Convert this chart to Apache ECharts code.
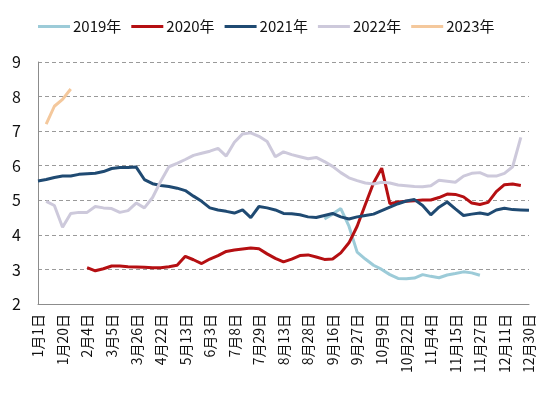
<!DOCTYPE html>
<html>
<head>
<meta charset="utf-8">
<script src="https://cdn.jsdelivr.net/npm/echarts@6/dist/echarts.min.js"></script>
<style>
  html, body { margin: 0; padding: 0; background: #fff; }
  #main { width: 550px; height: 397px; }
</style>
</head>
<body>
<div id="main"></div>
<script>
// 日期（每隔3个显示一个标签）
var dates = [
  '1月1日', '1月7日', '1月14日', '1月20日', '1月25日', '1月30日', '2月4日', '2月14日', '2月24日',
  '3月5日', '3月12日', '3月19日', '3月26日', '4月4日', '4月13日', '4月22日', '4月29日', '5月6日',
  '5月13日', '5月20日', '5月27日', '6月3日', '6月15日', '6月26日', '7月8日', '7月15日', '7月22日',
  '7月29日', '8月3日', '8月8日', '8月13日', '8月18日', '8月23日', '8月28日', '9月3日', '9月9日',
  '9月16日', '9月20日', '9月24日', '9月27日', '10月1日', '10月5日', '10月9日', '10月13日', '10月18日',
  '10月22日', '10月26日', '10月31日', '11月4日', '11月8日', '11月11日', '11月15日', '11月19日', '11月23日',
  '11月27日', '12月2日', '12月6日', '12月11日', '12月17日', '12月23日', '12月30日'
];

var seriesNames = ['2019年', '2020年', '2021年', '2022年', '2023年'];

var y2019 = [
  null, null, null, null, null, null, null, null, null, null,
  null, null, null, null, null, null, null, null, null, null,
  null, null, null, null, null, null, null, null, null, null,
  null, null, null, null, null, 4.46, 4.60, 4.76, 4.25, 3.50,
  3.30, 3.12, 3.00, 2.85, 2.74, 2.73, 2.75, 2.85, 2.80, 2.76,
  2.84, 2.88, 2.93, 2.90, 2.83, null, null, null, null, null,
  null
];

var y2020 = [
  null, null, null, null, null, null, 3.05, 2.96, 3.02, 3.10,
  3.10, 3.08, 3.07, 3.06, 3.05, 3.05, 3.08, 3.12, 3.38, 3.28,
  3.17, 3.30, 3.40, 3.52, 3.56, 3.59, 3.62, 3.60, 3.45, 3.32,
  3.22, 3.30, 3.40, 3.42, 3.36, 3.29, 3.30, 3.48, 3.77, 4.25,
  4.88, 5.50, 5.93, 4.90, 4.95, 4.97, 4.99, 5.01, 5.01, 5.08,
  5.18, 5.17, 5.10, 4.92, 4.88, 4.94, 5.25, 5.45, 5.47, 5.43,
  null
];

var y2021 = [
  5.56, 5.60, 5.66, 5.70, 5.70, 5.75, 5.77, 5.78, 5.83, 5.92,
  5.95, 5.95, 5.96, 5.60, 5.48, 5.43, 5.40, 5.35, 5.28, 5.12,
  4.97, 4.78, 4.72, 4.68, 4.63, 4.72, 4.50, 4.82, 4.78, 4.72,
  4.62, 4.61, 4.58, 4.52, 4.50, 4.56, 4.62, 4.52, 4.46, 4.52,
  4.56, 4.60, 4.70, 4.80, 4.90, 4.98, 5.02, 4.85, 4.58, 4.80,
  4.95, 4.75, 4.56, 4.60, 4.63, 4.59, 4.72, 4.77, 4.73, 4.72,
  4.71
];

var y2022 = [
  null, 4.97, 4.85, 4.22, 4.62, 4.65, 4.65, 4.82, 4.78, 4.76,
  4.65, 4.70, 4.92, 4.78, 5.08, 5.55, 5.97, 6.07, 6.18, 6.30,
  6.36, 6.42, 6.50, 6.28, 6.68, 6.92, 6.95, 6.85, 6.70, 6.26,
  6.40, 6.32, 6.26, 6.20, 6.24, 6.12, 5.98, 5.80, 5.65, 5.57,
  5.50, 5.47, 5.52, 5.50, 5.44, 5.42, 5.40, 5.39, 5.42, 5.58,
  5.55, 5.52, 5.70, 5.78, 5.80, 5.70, 5.70, 5.78, 5.97, 6.82,
  null
];

var y2023 = [
  null, 7.20, 7.72, 7.92, 8.22
];

var colors = ['#9ccbd8', '#b50f12', '#1f4a72', '#cdc9db', '#f4c89c'];

var chart = echarts.init(document.getElementById('main'));

function makeLine(name, data) {
  return {
    name: name,
    type: 'line',
    data: data,
    symbol: 'none',
    smooth: false,
    lineStyle: { width: 3 }
  };
}

var option = {
  backgroundColor: '#fff',
  color: colors,
  textStyle: { fontFamily: '"Noto Sans CJK SC", "Noto Sans", sans-serif' },
  legend: {
    top: 14,
    left: 33,
    icon: 'rect',
    itemWidth: 32,
    itemHeight: 3,
    itemGap: 10,
    textStyle: { fontSize: 15, color: '#111', padding: [0, 0, 0, -2] },
    data: seriesNames
  },
  grid: {
    left: 38,
    right: 21,
    top: 62,
    bottom: 93
  },
  xAxis: {
    type: 'category',
    boundaryGap: false,
    data: dates,
    axisLine: { lineStyle: { color: '#8c8c8c', width: 1 } },
    axisTick: { show: false },
    axisLabel: {
      interval: 2,
      rotate: 90,
      fontSize: 14,
      color: '#111',
      margin: 10
    }
  },
  yAxis: {
    type: 'value',
    min: 2,
    max: 9,
    interval: 1,
    axisLine: { show: true, lineStyle: { color: '#8c8c8c', width: 1 } },
    axisTick: { show: false },
    axisLabel: { fontSize: 16, color: '#111', margin: 17 },
    splitLine: { lineStyle: { color: '#9a9a9a', type: [4, 3], width: 1 } }
  },
  series: [
    makeLine(seriesNames[0], y2019),
    makeLine(seriesNames[1], y2020),
    makeLine(seriesNames[2], y2021),
    makeLine(seriesNames[3], y2022),
    makeLine(seriesNames[4], y2023)
  ]
};

chart.setOption(option);
</script>
</body>
</html>
